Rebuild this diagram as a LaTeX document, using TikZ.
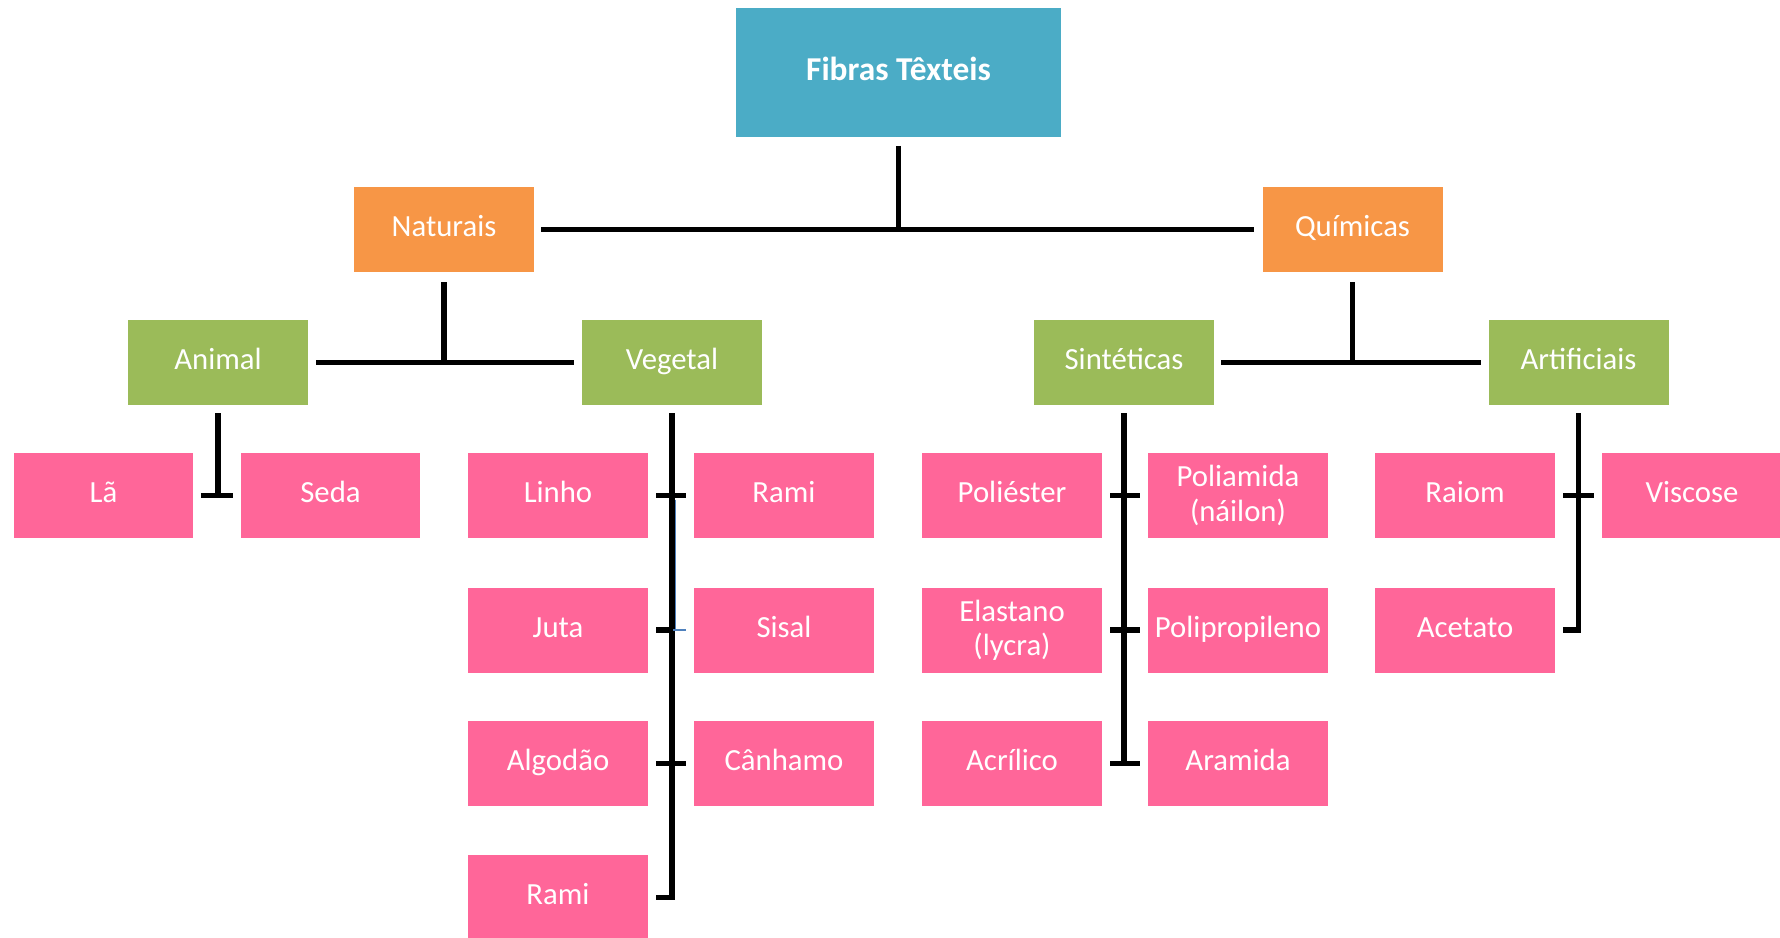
\documentclass[tikz,border=0pt]{standalone}
\usepackage{fontspec}
\setmainfont{Carlito}
\usetikzlibrary{calc}

\definecolor{azul}{HTML}{4BACC6}
\definecolor{laranja}{HTML}{F79646}
\definecolor{verde}{HTML}{9BBB59}
\definecolor{rosa}{HTML}{FF6699}
\definecolor{azulfino}{HTML}{4F81BD}

\tikzset{
	caixa/.style={minimum width=3.6cm, minimum height=1.7cm, inner sep=0pt, align=center, text=white, text height=12.5pt, text depth=4pt, font=\fontsize{17.5}{19.5}\selectfont},
	duas/.style={text height={}, text depth={}},
	raiz/.style={caixa, fill=azul, minimum width=6.5cm, minimum height=2.6cm, text height=13.5pt, text depth=4.5pt, font=\fontsize{19}{22}\selectfont\bfseries},
	grupo/.style={caixa, fill=laranja},
	tipo/.style={caixa, fill=verde},
	fibra/.style={caixa, fill=rosa},
	linha/.style={line width=3pt}
}

\begin{document}
\begin{tikzpicture}[x=0.02cm, y=-0.02cm]
	
	\useasboundingbox (0,0) rectangle (1780,937);
	
	% Fibras Texteis
	\draw (898.5,72.5) node[raiz] (fibras) {Fibras Têxteis};
	
	% Naturais e Quimicas
	\draw (444,229.5) node[grupo] (nat) {Naturais};
	\draw (1352.5,229.5) node[grupo] (quim) {Químicas};
	
	% Animal, Vegetal, Sinteticas, Artificiais
	\draw (218,362.5) node[tipo] (animal) {Animal};
	\draw (672,362.5) node[tipo] (vegetal) {Vegetal};
	\draw (1124,362.5) node[tipo] (sint) {Sintéticas};
	\draw (1578.5,362.5) node[tipo] (art) {Artificiais};
	
	% Animal
	\draw (103.5,495.5) node[fibra] (la) {Lã};
	\draw (330.5,495.5) node[fibra] (seda) {Seda};
	
	% Vegetal
	\draw (558,495.5) node[fibra] (linho) {Linho};
	\draw (784,495.5) node[fibra] (rami) {Rami};
	\draw (558,630) node[fibra] (juta) {Juta};
	\draw (784,630) node[fibra] (sisal) {Sisal};
	\draw (558,763.5) node[fibra] (algodao) {Algodão};
	\draw (784,763.5) node[fibra] (canhamo) {Cânhamo};
	\draw (558,897.5) node[fibra] (ramib) {Rami};
	
	% Sinteticas
	\draw (1012,495.5) node[fibra] (poliester) {Poliéster};
	\draw (1238,495.5) node[fibra, duas] (poliamida) {Poliamida\\(náilon)};
	\draw (1012,630) node[fibra, duas] (elastano) {Elastano\\(lycra)};
	\draw (1238,630) node[fibra] (polipro) {Polipropileno};
	\draw (1012,763.5) node[fibra] (acrilico) {Acrílico};
	\draw (1238,763.5) node[fibra] (aramida) {Aramida};
	
	% Artificiais
	\draw (1465,495.5) node[fibra] (raiom) {Raiom};
	\draw (1692,495.5) node[fibra] (viscose) {Viscose};
	\draw (1465,630) node[fibra] (acetato) {Acetato};
	
	
	% Linhas
	
	\draw [linha] ($(fibras.south)+(0,8)$) -- (fibras.south |- nat.east);
	\draw [linha] ($(nat.east)+(7,0)$) -- ($(quim.west)+(-8,0)$);
	
	\draw [linha] ($(nat.south)+(0,10)$) -- (nat.south |- animal.east);
	\draw [linha] ($(animal.east)+(8,0)$) -- ($(vegetal.west)+(-8,0)$);
	
	\draw [linha] ($(quim.south)+(0,10)$) -- (quim.south |- sint.east);
	\draw [linha] ($(sint.east)+(7,0)$) -- ($(art.west)+(-7,0)$);
	
	% Animal
	\draw [linha] ($(animal.south)+(0,8)$) -- (animal.south |- la.east);
	\draw [linha] ($(la.east)+(7,0)$) -- ($(seda.west)+(-7,0)$);
	
	% Vegetal
	\draw [linha] ($(vegetal.south)+(0,8)$) -- (vegetal.south |- ramib.east) -- ($(ramib.east)+(8,0)$);
	\draw [linha] ($(linho.east)+(8,0)$) -- ($(rami.west)+(-8,0)$);
	\draw [linha] ($(juta.east)+(8,0)$) -- (vegetal.south |- juta.east);
	\draw [azulfino, line width=1pt] ($(vegetal.south |- juta.east)+(1,0)$) -- ($(sisal.west)+(-8,0)$);
	\draw [azulfino, line width=0.4pt] ($(vegetal.south |- linho.east)+(3,4)$) -- ($(vegetal.south |- juta.east)+(3,0)$);
	\draw [linha] ($(algodao.east)+(8,0)$) -- ($(canhamo.west)+(-8,0)$);
	
	% Sinteticas
	\draw [linha] ($(sint.south)+(0,8)$) -- (sint.south |- acrilico.east);
	\draw [linha] ($(poliester.east)+(8,0)$) -- ($(poliamida.west)+(-8,0)$);
	\draw [linha] ($(elastano.east)+(8,0)$) -- ($(polipro.west)+(-8,0)$);
	\draw [linha] ($(acrilico.east)+(8,0)$) -- ($(aramida.west)+(-8,0)$);
	
	% Artificiais
	\draw [linha] ($(art.south)+(0,8)$) -- (art.south |- acetato.east) -- ($(acetato.east)+(8,0)$);
	\draw [linha] ($(raiom.east)+(8,0)$) -- ($(viscose.west)+(-8,0)$);
	
\end{tikzpicture}
\end{document}
